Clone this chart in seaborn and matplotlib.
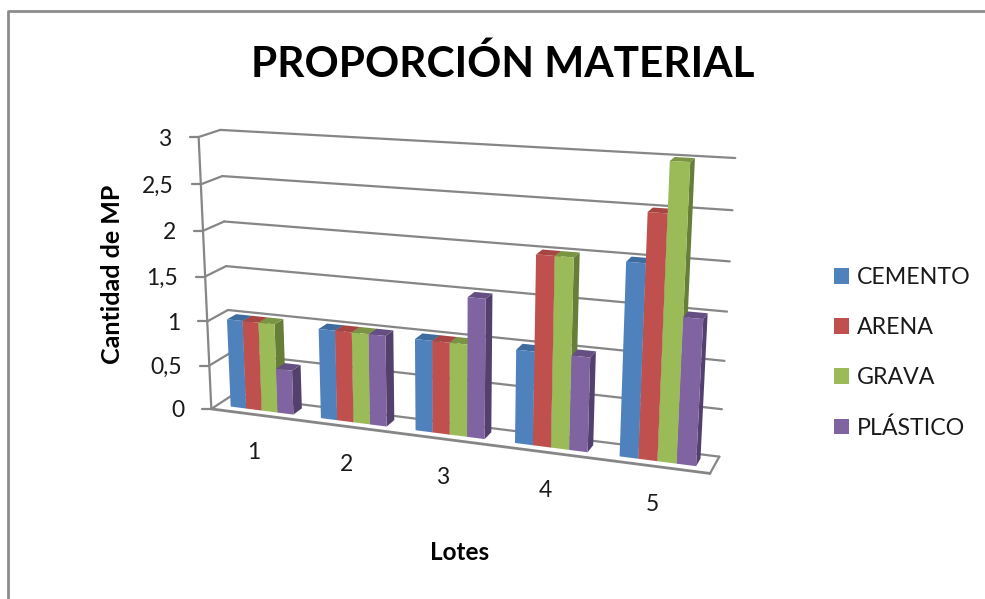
import numpy as np
import pandas as pd
import matplotlib
matplotlib.use("Agg")
import matplotlib.pyplot as plt
import seaborn as sns
from matplotlib.lines import Line2D
from matplotlib.patches import Patch, Polygon
from matplotlib.transforms import Affine2D, Transform

lotes = ["1", "2", "3", "4", "5"]
cemento = [1, 1, 1, 1, 2]
arena = [1, 1, 1, 2, 2.5]
grava = [1, 1, 1, 2, 3]
plastico = [0.5, 1, 1.5, 1, 1.5]
materiales = ["CEMENTO", "ARENA", "GRAVA", "PLÁSTICO"]
colores = ["#4F81BD", "#C0504D", "#9BBB59", "#8064A2"]
colores_lado = ["#3A6190", "#8E3B39", "#677E38", "#54406C"]
colores_tapa = ["#3F6C9F", "#A64542", "#7B9444", "#654F82"]
y_ticks = [0, 0.5, 1, 1.5, 2, 2.5, 3]
y_labels = ["0", "0,5", "1", "1,5", "2", "2,5", "3"]

W, H = 985, 599
GRID = "#868686"
sns.set_style("white")
plt.rcParams["font.family"] = ["Lato", "DejaVu Sans"]

# Camera of the 3D box: (lote axis, value, depth) -> pixel position
box_pts = np.array([
    (0, 0, 0), (5, 0, 0), (0, 3, 0), (0, 0, 1), (5, 0, 1), (0, 3, 1), (5, 3, 1),
    (0, 1, 1), (5, 1, 1), (0, 1.5, 0),
], float)
px_pts = np.array([
    (213, 408), (710, 474), (197, 137), (230, 397), (719, 456), (222, 130), (735, 158),
    (228, 309), (725, 361), (205, 277),
], float)


def fit_camera(world, image):
    rows, rhs = [], []
    for (x, y, z), (u, v) in zip(world, image):
        rows.append([x, y, z, 1, 0, 0, 0, 0, -u * x, -u * y, -u * z])
        rhs.append(u)
        rows.append([0, 0, 0, 0, x, y, z, 1, -v * x, -v * y, -v * z])
        rhs.append(v)
    sol = np.linalg.lstsq(np.array(rows), np.array(rhs), rcond=None)[0]
    return np.append(sol, 1.0).reshape(3, 4)


CAM = fit_camera(box_pts, px_pts)


def project(x, y, z):
    p = CAM @ np.array([x, y, z, 1.0])
    return p[:2] / p[2]


pixel_tf = Affine2D().scale(1, -1).translate(0, H)


class PlaneProjection(Transform):
    """Maps (lote axis, value) on a plane of constant depth to display space."""
    input_dims = 2
    output_dims = 2
    is_separable = False
    has_inverse = False

    def __init__(self, plane_z):
        super().__init__()
        self.plane_z = plane_z

    def transform_non_affine(self, values):
        values = np.asarray(values, float)
        world = np.column_stack([values[:, 0] + 0.5, values[:, 1],
                                 np.full(len(values), self.plane_z), np.ones(len(values))])
        p = world @ CAM.T
        return pixel_tf.transform(p[:, :2] / p[:, 2:3])


fig = plt.figure(figsize=(W / 100, H / 100), dpi=100, facecolor="white")
ax = fig.add_axes([0, 0, 1, 1])

datos = pd.DataFrame({
    "Lote": lotes * 4,
    "Cantidad": cemento + arena + grava + plastico,
    "Material": [m for m in materiales for _ in lotes],
})
sns.barplot(data=datos, x="Lote", y="Cantidad", hue="Material", hue_order=materiales,
            palette=colores, saturation=1, width=0.7, gap=0, legend=False,
            linewidth=0, ax=ax)
ax.set_axis_off()

Z_FRONT, Z_BACK = 0.3, 0.75
front_tf = PlaneProjection(Z_FRONT)


def line3d(a, b, lw=1.6):
    pa, pb = project(*a), project(*b)
    ax.add_line(Line2D([pa[0], pb[0]], [pa[1], pb[1]], color=GRID, lw=lw,
                       transform=pixel_tf, zorder=1, clip_on=False,
                       solid_capstyle="round"))


# Walls and floor
for t, lab in zip(y_ticks, y_labels):
    line3d((0, t, 0), (0, t, 1))
    line3d((0, t, 1), (5, t, 1))
    fx, fy = project(0, t, 0)
    ax.add_line(Line2D([fx - 9, fx], [fy, fy], color=GRID, lw=1.6, transform=pixel_tf,
                       zorder=1, clip_on=False))
    ax.text(fx - 27, fy + 2, lab, transform=pixel_tf, ha="right", va="center",
            fontsize=16.5, color="#1a1a1a")
line3d((0, 0, 0), (0, 3, 0))
line3d((0, 0, 0), (5, 0, 0), lw=2)
line3d((5, 0, 0), (5, 0, 1))

# Bars: painted left to right, since the right-hand faces point at the viewer
order = 2.0
bars = [(n, h, bar) for h, cont in enumerate(ax.containers) for n, bar in enumerate(cont)]
for n, h, bar in sorted(bars, key=lambda item: (item[0], item[1])):
    x0, x1 = bar.get_x() + 0.5, bar.get_x() + bar.get_width() + 0.5
    top = bar.get_height()
    side = [project(x1, 0, Z_FRONT), project(x1, 0, Z_BACK),
            project(x1, top, Z_BACK), project(x1, top, Z_FRONT)]
    cap = [project(x0, top, Z_FRONT), project(x1, top, Z_FRONT),
           project(x1, top, Z_BACK), project(x0, top, Z_BACK)]
    ax.add_patch(Polygon(side, closed=True, fc=colores_lado[h], ec="none",
                         transform=pixel_tf, zorder=order, clip_on=False))
    ax.add_patch(Polygon(cap, closed=True, fc=colores_tapa[h], ec="none",
                         transform=pixel_tf, zorder=order + 0.1, clip_on=False))
    bar.set_transform(front_tf)
    bar.set_clip_on(False)
    bar.set_zorder(order + 0.2)
    order += 1

# Category labels under the floor
for i, lab in enumerate(lotes):
    fx, fy = project(i + 0.5, 0, 0)
    ax.text(fx - 2, fy + 38, lab, transform=pixel_tf, ha="center", va="center",
            fontsize=16.5, color="#1a1a1a")

ax.text(503, 64, "PROPORCIÓN MATERIAL", transform=pixel_tf, ha="center", va="center",
        fontsize=30.5, fontweight="bold", color="black")
ax.text(460, 553, "Lotes", transform=pixel_tf, ha="center", va="center",
        fontsize=17.5, fontweight="bold", color="black")
ax.text(112, 274, "Cantidad de MP", transform=pixel_tf, ha="center", va="center",
        rotation=90, fontsize=18, fontweight="bold", color="black")

handles = [Patch(fc=c, ec="none", label=m) for c, m in zip(colores, materiales)]
ax.legend(handles=handles, loc="center left", bbox_to_anchor=(834 / W, 1 - 353 / H),
          bbox_transform=fig.transFigure, frameon=False, fontsize=16.7,
          handlelength=0.65, handleheight=0.65, handletextpad=0.35, labelspacing=1.25,
          labelcolor="#1a1a1a", borderpad=0, borderaxespad=0)

# Chart frame
fig.add_artist(Line2D([8, 8, W], [H, 11, 11], color="#8c8c8c", lw=2, transform=pixel_tf))

fig.savefig("out.png", dpi=100, facecolor="white")
